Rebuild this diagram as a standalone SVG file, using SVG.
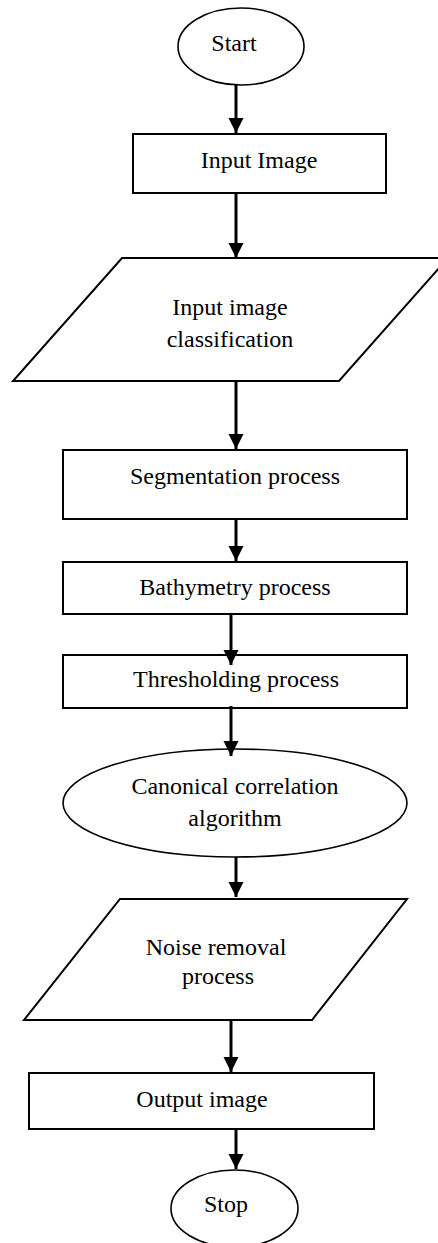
<svg xmlns="http://www.w3.org/2000/svg" width="438" height="1243" viewBox="0 0 438 1243">
<style>
.shape{fill:#fff;stroke:#000;stroke-width:2}
.oval{fill:#fff;stroke:#000;stroke-width:1.6}
.lbl{font-family:"Liberation Serif","Times New Roman",serif;font-size:24px;fill:#000;text-anchor:middle}
.conn{stroke:#000;stroke-width:3;fill:none}
</style>
<defs>
<marker id="arr" markerUnits="userSpaceOnUse" markerWidth="16" markerHeight="16" refX="15" refY="7.5" orient="auto">
<path d="M0,0 L15,7.5 L0,15 z" fill="#000"/>
</marker>
</defs>
<rect width="438" height="1243" fill="#fff"/>
<g id="start"><ellipse class="oval" cx="241" cy="46.5" rx="63" ry="38.5"/><text class="lbl" x="234" y="51">Start</text></g>
<g id="input-image"><rect class="shape" x="133" y="134" width="253" height="59"/><text class="lbl" x="259" y="168">Input Image</text></g>
<g id="classification"><polygon class="shape" points="122,258 448,258 339,381 13,381"/><text class="lbl" x="230" y="315">Input image</text><text class="lbl" x="230" y="347">classification</text></g>
<g id="segmentation"><rect class="shape" x="63" y="450" width="344" height="69"/><text class="lbl" x="235" y="484">Segmentation process</text></g>
<g id="bathymetry"><rect class="shape" x="63" y="562" width="344" height="52"/><text class="lbl" x="235" y="595">Bathymetry process</text></g>
<g id="thresholding"><rect class="shape" x="63" y="655" width="344" height="53"/><text class="lbl" x="236" y="687">Thresholding process</text></g>
<g id="canonical"><ellipse class="oval" cx="235" cy="803" rx="172" ry="54"/><text class="lbl" x="235" y="794">Canonical correlation</text><text class="lbl" x="235" y="826">algorithm</text></g>
<g id="noise"><polygon class="shape" points="120,899 407,899 312,1020 24,1020"/><text class="lbl" x="216" y="955">Noise removal</text><text class="lbl" x="218" y="984">process</text></g>
<g id="output"><rect class="shape" x="29" y="1073" width="345" height="56"/><text class="lbl" x="202" y="1107">Output image</text></g>
<g id="stop"><ellipse class="oval" cx="234.5" cy="1208.5" rx="63.5" ry="38.5"/><text class="lbl" x="226" y="1212">Stop</text></g>
<g id="connectors">
<line class="conn" x1="236" y1="85" x2="236" y2="133" marker-end="url(#arr)"/>
<line class="conn" x1="236" y1="193" x2="236" y2="258" marker-end="url(#arr)"/>
<line class="conn" x1="236" y1="381" x2="236" y2="449" marker-end="url(#arr)"/>
<line class="conn" x1="236" y1="519" x2="236" y2="561" marker-end="url(#arr)"/>
<line class="conn" x1="231" y1="614" x2="231" y2="665" marker-end="url(#arr)"/>
<line class="conn" x1="231" y1="706" x2="231" y2="756" marker-end="url(#arr)"/>
<line class="conn" x1="236" y1="857" x2="236" y2="897" marker-end="url(#arr)"/>
<line class="conn" x1="231" y1="1020" x2="231" y2="1072" marker-end="url(#arr)"/>
<line class="conn" x1="236" y1="1129" x2="236" y2="1169" marker-end="url(#arr)"/>
</g>
</svg>
